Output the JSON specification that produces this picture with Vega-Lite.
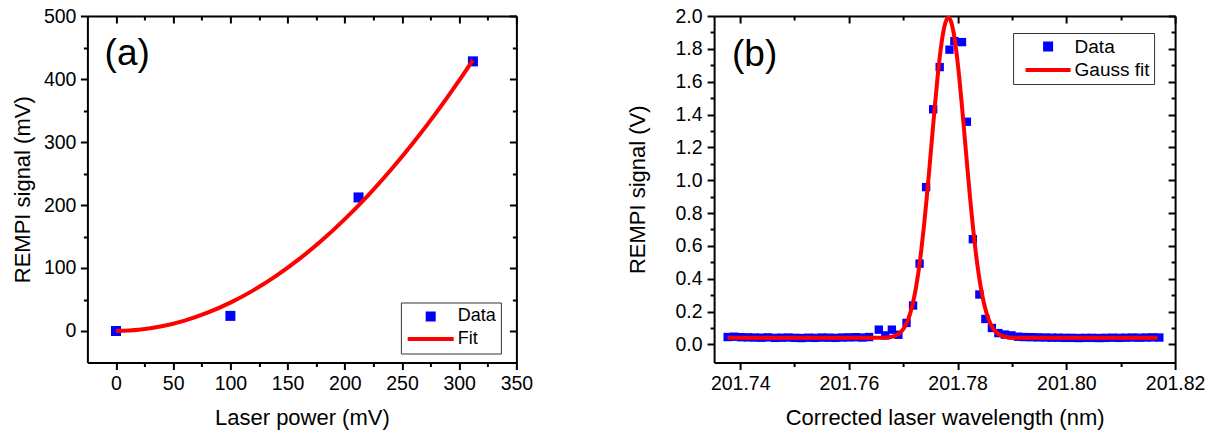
{
  "$schema": "https://vega.github.io/schema/vega-lite/v6.json",
  "background": "white",
  "padding": {"left": 11.4, "top": 6, "right": 5, "bottom": 2},
  "config": {
    "view": {"stroke": null},
    "font": "Liberation Sans",
    "axis": {
      "domainColor": "#000", "domainWidth": 2,
      "tickColor": "#000", "tickWidth": 2,
      "labelColor": "#000", "titleColor": "#000",
      "labelFont": "Liberation Sans", "titleFont": "Liberation Sans",
      "labelFontSize": 19.5, "titleFontSize": 22, "titleFontWeight": "normal",
      "grid": false, "labelFlush": false, "labelOverlap": false
    },
    "legend": {"labelFont": "Liberation Sans", "labelFontSize": 18, "labelColor": "#000"}
  },
  "spacing": 92.7,
  "resolve": {
    "scale": {"fill": "independent", "stroke": "independent", "shape": "independent"},
    "legend": {"fill": "independent", "stroke": "independent", "shape": "independent"}
  },
  "hconcat": [
    {
      "width": 429,
      "height": 346.5,
      "resolve": {"axis": {"x": "independent", "y": "independent"}},
      "layer": [
        {
          "data": {"values": [
            {"x": 0, "y": 0, "series": "Data"},
            {"x": 100, "y": 24, "series": "Data"},
            {"x": 212, "y": 212, "series": "Data"},
            {"x": 312, "y": 428, "series": "Data"}
          ]},
          "mark": {"type": "point", "filled": true, "size": 100, "opacity": 1},
          "encoding": {
            "x": {"field": "x", "type": "quantitative",
              "scale": {"domain": [-25, 350], "nice": false, "zero": false},
              "axis": {"orient": "bottom", "title": "Laser power (mV)",
                "values": [0, 50, 100, 150, 200, 250, 300, 350],
                "ticks": false, "labelPadding": 12, "titlePadding": 15}},
            "y": {"field": "y", "type": "quantitative",
              "scale": {"domain": [-50, 500], "nice": false, "zero": false},
              "axis": {"orient": "left", "title": "REMPI signal (mV)",
                "values": [0, 100, 200, 300, 400, 500],
                "ticks": false, "labelPadding": 11.5, "titlePadding": 8.4}},
            "fill": {"field": "series", "type": "nominal",
              "scale": {"domain": ["Data", "Fit"], "range": ["#0000ff", "transparent"]},
              "legend": {"orient": "none", "legendX": 313.5, "legendY": 286.5, "title": null, "symbolSize": 100, "symbolStrokeWidth": 4, "symbolOffset": 15.8, "labelOffset": 18, "padding": 5, "rowPadding": 0.5, "strokeColor": "#333", "fillColor": "white", "symbolOpacity": 1}},
            "stroke": {"field": "series", "type": "nominal",
              "scale": {"domain": ["Data", "Fit"], "range": ["transparent", "#ff0000"]},
              "legend": {"orient": "none", "legendX": 313.5, "legendY": 286.5, "title": null, "symbolSize": 100, "symbolStrokeWidth": 4, "symbolOffset": 15.8, "labelOffset": 18, "padding": 5, "rowPadding": 0.5, "strokeColor": "#333", "fillColor": "white", "symbolOpacity": 1}},
            "shape": {"field": "series", "type": "nominal",
              "scale": {"domain": ["Data", "Fit"], "range": ["square", "M-4.6,0H4.6"]},
              "legend": {"orient": "none", "legendX": 313.5, "legendY": 286.5, "title": null, "symbolSize": 100, "symbolStrokeWidth": 4, "symbolOffset": 15.8, "labelOffset": 18, "padding": 5, "rowPadding": 0.5, "strokeColor": "#333", "fillColor": "white", "symbolOpacity": 1}}
          }
        },
        {
          "data": {"values": [
            {"x": 0, "y": 0}, {"x": 20, "y": 2.0}, {"x": 40, "y": 7.5}, {"x": 60, "y": 16.5},
            {"x": 80, "y": 29.0}, {"x": 100, "y": 45.0}, {"x": 120, "y": 64.5}, {"x": 140, "y": 87.5},
            {"x": 160, "y": 114.0}, {"x": 180, "y": 144.0}, {"x": 200, "y": 177.6}, {"x": 220, "y": 214.6},
            {"x": 240, "y": 255.1}, {"x": 260, "y": 299.1}, {"x": 280, "y": 346.6}, {"x": 300, "y": 397.7},
            {"x": 312, "y": 430.0}
          ]},
          "mark": {"type": "line", "color": "#ff0000", "strokeWidth": 4, "interpolate": "monotone"},
          "encoding": {
            "x": {"field": "x", "type": "quantitative",
              "scale": {"domain": [-25, 350], "nice": false, "zero": false},
              "axis": {"orient": "top", "title": null, "labels": false,
                "values": [0, 50, 100, 150, 200, 250, 300, 350], "tickSize": -7}},
            "y": {"field": "y", "type": "quantitative",
              "scale": {"domain": [-50, 500], "nice": false, "zero": false},
              "axis": {"orient": "right", "title": null, "labels": false,
                "values": [0, 100, 200, 300, 400, 500], "tickSize": -7}}
          }
        },
        {
          "data": {"values": [{"x": 0, "y": 0}]},
          "mark": {"type": "point", "opacity": 0},
          "encoding": {
            "x": {"field": "x", "type": "quantitative",
              "scale": {"domain": [-25, 350], "nice": false, "zero": false},
              "axis": {"orient": "top", "title": null, "labels": false, "domain": false,
                "values": [25, 75, 125, 175, 225, 275, 325], "tickSize": -4}},
            "y": {"field": "y", "type": "quantitative",
              "scale": {"domain": [-50, 500], "nice": false, "zero": false},
              "axis": {"orient": "right", "title": null, "labels": false, "domain": false,
                "values": [50, 150, 250, 350, 450], "tickSize": -4}}
          }
        },
        {
          "data": {"values": [{"x": 0, "y": 0}]},
          "mark": {"type": "point", "opacity": 0},
          "encoding": {
            "x": {"field": "x", "type": "quantitative",
              "scale": {"domain": [-25, 350], "nice": false, "zero": false},
              "axis": {"orient": "top", "offset": -346.5, "title": null, "labels": false, "domain": false,
                "values": [0, 50, 100, 150, 200, 250, 300, 350], "tickSize": -7}},
            "y": {"field": "y", "type": "quantitative",
              "scale": {"domain": [-50, 500], "nice": false, "zero": false},
              "axis": {"orient": "right", "offset": -429, "title": null, "labels": false, "domain": false,
                "values": [0, 100, 200, 300, 400, 500], "tickSize": -7}}
          }
        },
        {
          "data": {"values": [{"x": 0, "y": 0}]},
          "mark": {"type": "point", "opacity": 0},
          "encoding": {
            "x": {"field": "x", "type": "quantitative",
              "scale": {"domain": [-25, 350], "nice": false, "zero": false},
              "axis": {"orient": "top", "offset": -346.5, "title": null, "labels": false, "domain": false,
                "values": [25, 75, 125, 175, 225, 275, 325], "tickSize": -4}},
            "y": {"field": "y", "type": "quantitative",
              "scale": {"domain": [-50, 500], "nice": false, "zero": false},
              "axis": {"orient": "right", "offset": -429, "title": null, "labels": false, "domain": false,
                "values": [50, 150, 250, 350, 450], "tickSize": -4}}
          }
        },
        {
          "data": {"values": [{"x": -10, "y": 422, "t": "(a)"}]},
          "mark": {"type": "text", "fontSize": 37, "align": "left", "baseline": "alphabetic", "color": "#000", "font": "Liberation Sans"},
          "encoding": {
            "x": {"field": "x", "type": "quantitative", "axis": null},
            "y": {"field": "y", "type": "quantitative", "axis": null},
            "text": {"field": "t"}
          }
        }
      ]
    },
    {
      "width": 461,
      "height": 346.5,
      "resolve": {"axis": {"x": "independent", "y": "independent"}},
      "layer": [
        {
          "data": {"values": [
            {"x": 201.7377, "y": 0.045, "series": "Data"},
            {"x": 201.7389, "y": 0.047, "series": "Data"},
            {"x": 201.7402, "y": 0.044, "series": "Data"},
            {"x": 201.7414, "y": 0.043, "series": "Data"},
            {"x": 201.7427, "y": 0.042, "series": "Data"},
            {"x": 201.7439, "y": 0.041, "series": "Data"},
            {"x": 201.7451, "y": 0.043, "series": "Data"},
            {"x": 201.7464, "y": 0.040, "series": "Data"},
            {"x": 201.7476, "y": 0.041, "series": "Data"},
            {"x": 201.7489, "y": 0.042, "series": "Data"},
            {"x": 201.7501, "y": 0.040, "series": "Data"},
            {"x": 201.7513, "y": 0.039, "series": "Data"},
            {"x": 201.7526, "y": 0.041, "series": "Data"},
            {"x": 201.7538, "y": 0.040, "series": "Data"},
            {"x": 201.7551, "y": 0.042, "series": "Data"},
            {"x": 201.7563, "y": 0.041, "series": "Data"},
            {"x": 201.7575, "y": 0.040, "series": "Data"},
            {"x": 201.7588, "y": 0.042, "series": "Data"},
            {"x": 201.7600, "y": 0.043, "series": "Data"},
            {"x": 201.7613, "y": 0.044, "series": "Data"},
            {"x": 201.7625, "y": 0.042, "series": "Data"},
            {"x": 201.7637, "y": 0.045, "series": "Data"},
            {"x": 201.7655, "y": 0.090, "series": "Data"},
            {"x": 201.7667, "y": 0.055, "series": "Data"},
            {"x": 201.7679, "y": 0.090, "series": "Data"},
            {"x": 201.7691, "y": 0.059, "series": "Data"},
            {"x": 201.7706, "y": 0.131, "series": "Data"},
            {"x": 201.7718, "y": 0.237, "series": "Data"},
            {"x": 201.7730, "y": 0.492, "series": "Data"},
            {"x": 201.7742, "y": 0.958, "series": "Data"},
            {"x": 201.7755, "y": 1.432, "series": "Data"},
            {"x": 201.7767, "y": 1.689, "series": "Data"},
            {"x": 201.7785, "y": 1.795, "series": "Data"},
            {"x": 201.7794, "y": 1.847, "series": "Data"},
            {"x": 201.7808, "y": 1.841, "series": "Data"},
            {"x": 201.7817, "y": 1.356, "series": "Data"},
            {"x": 201.7828, "y": 0.641, "series": "Data"},
            {"x": 201.7840, "y": 0.304, "series": "Data"},
            {"x": 201.7851, "y": 0.155, "series": "Data"},
            {"x": 201.7863, "y": 0.100, "series": "Data"},
            {"x": 201.7875, "y": 0.069, "series": "Data"},
            {"x": 201.7887, "y": 0.060, "series": "Data"},
            {"x": 201.7899, "y": 0.055, "series": "Data"},
            {"x": 201.7911, "y": 0.047, "series": "Data"},
            {"x": 201.7923, "y": 0.045, "series": "Data"},
            {"x": 201.7936, "y": 0.044, "series": "Data"},
            {"x": 201.7948, "y": 0.043, "series": "Data"},
            {"x": 201.7961, "y": 0.042, "series": "Data"},
            {"x": 201.7973, "y": 0.041, "series": "Data"},
            {"x": 201.7985, "y": 0.041, "series": "Data"},
            {"x": 201.7998, "y": 0.040, "series": "Data"},
            {"x": 201.8010, "y": 0.040, "series": "Data"},
            {"x": 201.8023, "y": 0.039, "series": "Data"},
            {"x": 201.8035, "y": 0.040, "series": "Data"},
            {"x": 201.8047, "y": 0.040, "series": "Data"},
            {"x": 201.8060, "y": 0.039, "series": "Data"},
            {"x": 201.8072, "y": 0.040, "series": "Data"},
            {"x": 201.8085, "y": 0.041, "series": "Data"},
            {"x": 201.8097, "y": 0.040, "series": "Data"},
            {"x": 201.8109, "y": 0.041, "series": "Data"},
            {"x": 201.8122, "y": 0.042, "series": "Data"},
            {"x": 201.8134, "y": 0.041, "series": "Data"},
            {"x": 201.8147, "y": 0.042, "series": "Data"},
            {"x": 201.8159, "y": 0.043, "series": "Data"},
            {"x": 201.8171, "y": 0.042, "series": "Data"}
          ]},
          "mark": {"type": "point", "filled": true, "size": 70, "opacity": 1},
          "encoding": {
            "x": {"field": "x", "type": "quantitative",
              "scale": {"domain": [201.7352, 201.82], "nice": false, "zero": false},
              "axis": {"orient": "bottom", "title": "Corrected laser wavelength (nm)", "format": ".2f",
                "values": [201.74, 201.76, 201.78, 201.80, 201.82],
                "ticks": false, "labelPadding": 12, "titlePadding": 15}},
            "y": {"field": "y", "type": "quantitative",
              "scale": {"domain": [-0.11, 2.0], "nice": false, "zero": false},
              "axis": {"orient": "left", "title": "REMPI signal (V)", "format": ".1f",
                "values": [0, 0.2, 0.4, 0.6, 0.8, 1.0, 1.2, 1.4, 1.6, 1.8, 2.0],
                "ticks": false, "labelPadding": 12, "titlePadding": 25.5}},
            "fill": {"field": "series", "type": "nominal",
              "scale": {"domain": ["Data", "Gauss fit"], "range": ["#0000ff", "transparent"]},
              "legend": {"orient": "none", "legendX": 299, "legendY": 17, "title": null, "symbolSize": 100, "symbolStrokeWidth": 4, "symbolOffset": 21.5, "labelOffset": 17, "padding": 4, "rowPadding": 0.5, "labelFontSize": 19, "strokeColor": "#333", "fillColor": "white", "symbolOpacity": 1}},
            "stroke": {"field": "series", "type": "nominal",
              "scale": {"domain": ["Data", "Gauss fit"], "range": ["transparent", "#ff0000"]},
              "legend": {"orient": "none", "legendX": 299, "legendY": 17, "title": null, "symbolSize": 100, "symbolStrokeWidth": 4, "symbolOffset": 21.5, "labelOffset": 17, "padding": 4, "rowPadding": 0.5, "labelFontSize": 19, "strokeColor": "#333", "fillColor": "white", "symbolOpacity": 1}},
            "shape": {"field": "series", "type": "nominal",
              "scale": {"domain": ["Data", "Gauss fit"], "range": ["square", "M-4.5,0H4.5"]},
              "legend": {"orient": "none", "legendX": 299, "legendY": 17, "title": null, "symbolSize": 100, "symbolStrokeWidth": 4, "symbolOffset": 21.5, "labelOffset": 17, "padding": 4, "rowPadding": 0.5, "labelFontSize": 19, "strokeColor": "#333", "fillColor": "white", "symbolOpacity": 1}}
          }
        },
        {
          "data": {"values": [
            {"x": 201.7377, "y": 0.04},
            {"x": 201.7653, "y": 0.0403},
            {"x": 201.7663, "y": 0.0411},
            {"x": 201.7673, "y": 0.0436},
            {"x": 201.7683, "y": 0.0507},
            {"x": 201.7688, "y": 0.0578},
            {"x": 201.7693, "y": 0.0688},
            {"x": 201.7698, "y": 0.0855},
            {"x": 201.7703, "y": 0.1098},
            {"x": 201.7708, "y": 0.1445},
            {"x": 201.7713, "y": 0.1924},
            {"x": 201.7718, "y": 0.2565},
            {"x": 201.7723, "y": 0.3397},
            {"x": 201.7728, "y": 0.4441},
            {"x": 201.7733, "y": 0.5711},
            {"x": 201.7738, "y": 0.7199},
            {"x": 201.7743, "y": 0.8882},
            {"x": 201.7748, "y": 1.0709},
            {"x": 201.7753, "y": 1.2609},
            {"x": 201.7758, "y": 1.4487},
            {"x": 201.7763, "y": 1.6236},
            {"x": 201.7768, "y": 1.7746},
            {"x": 201.7773, "y": 1.8911},
            {"x": 201.7778, "y": 1.9648},
            {"x": 201.7783, "y": 1.99},
            {"x": 201.7788, "y": 1.9648},
            {"x": 201.7793, "y": 1.8911},
            {"x": 201.7798, "y": 1.7746},
            {"x": 201.7803, "y": 1.6236},
            {"x": 201.7808, "y": 1.4487},
            {"x": 201.7813, "y": 1.2609},
            {"x": 201.7818, "y": 1.0709},
            {"x": 201.7823, "y": 0.8882},
            {"x": 201.7828, "y": 0.7199},
            {"x": 201.7833, "y": 0.5711},
            {"x": 201.7838, "y": 0.4441},
            {"x": 201.7843, "y": 0.3397},
            {"x": 201.7848, "y": 0.2565},
            {"x": 201.7853, "y": 0.1924},
            {"x": 201.7858, "y": 0.1445},
            {"x": 201.7863, "y": 0.1098},
            {"x": 201.7868, "y": 0.0855},
            {"x": 201.7873, "y": 0.0688},
            {"x": 201.7878, "y": 0.0578},
            {"x": 201.7883, "y": 0.0507},
            {"x": 201.7893, "y": 0.0436},
            {"x": 201.7903, "y": 0.0411},
            {"x": 201.7913, "y": 0.0403},
            {"x": 201.8168, "y": 0.04}
          ]},
          "mark": {"type": "line", "color": "#ff0000", "strokeWidth": 4, "interpolate": "monotone"},
          "encoding": {
            "x": {"field": "x", "type": "quantitative",
              "scale": {"domain": [201.7352, 201.82], "nice": false, "zero": false},
              "axis": {"orient": "top", "title": null, "labels": false,
                "values": [201.74, 201.76, 201.78, 201.80, 201.82], "tickSize": -7}},
            "y": {"field": "y", "type": "quantitative",
              "scale": {"domain": [-0.11, 2.0], "nice": false, "zero": false},
              "axis": {"orient": "right", "title": null, "labels": false,
                "values": [0, 0.2, 0.4, 0.6, 0.8, 1.0, 1.2, 1.4, 1.6, 1.8, 2.0], "tickSize": -7}}
          }
        },
        {
          "data": {"values": [{"x": 201.78, "y": 0}]},
          "mark": {"type": "point", "opacity": 0},
          "encoding": {
            "x": {"field": "x", "type": "quantitative",
              "scale": {"domain": [201.7352, 201.82], "nice": false, "zero": false},
              "axis": {"orient": "top", "title": null, "labels": false, "domain": false,
                "values": [201.75, 201.77, 201.79, 201.81], "tickSize": -4}},
            "y": {"field": "y", "type": "quantitative",
              "scale": {"domain": [-0.11, 2.0], "nice": false, "zero": false},
              "axis": {"orient": "right", "title": null, "labels": false, "domain": false,
                "values": [0.1, 0.3, 0.5, 0.7, 0.9, 1.1, 1.3, 1.5, 1.7, 1.9], "tickSize": -4}}
          }
        },
        {
          "data": {"values": [{"x": 201.78, "y": 0}]},
          "mark": {"type": "point", "opacity": 0},
          "encoding": {
            "x": {"field": "x", "type": "quantitative",
              "scale": {"domain": [201.7352, 201.82], "nice": false, "zero": false},
              "axis": {"orient": "top", "offset": -346.5, "title": null, "labels": false, "domain": false,
                "values": [201.74, 201.76, 201.78, 201.80, 201.82], "tickSize": -7}},
            "y": {"field": "y", "type": "quantitative",
              "scale": {"domain": [-0.11, 2.0], "nice": false, "zero": false},
              "axis": {"orient": "right", "offset": -461, "title": null, "labels": false, "domain": false,
                "values": [0, 0.2, 0.4, 0.6, 0.8, 1.0, 1.2, 1.4, 1.6, 1.8, 2.0], "tickSize": -7}}
          }
        },
        {
          "data": {"values": [{"x": 201.78, "y": 0}]},
          "mark": {"type": "point", "opacity": 0},
          "encoding": {
            "x": {"field": "x", "type": "quantitative",
              "scale": {"domain": [201.7352, 201.82], "nice": false, "zero": false},
              "axis": {"orient": "top", "offset": -346.5, "title": null, "labels": false, "domain": false,
                "values": [201.75, 201.77, 201.79, 201.81], "tickSize": -4}},
            "y": {"field": "y", "type": "quantitative",
              "scale": {"domain": [-0.11, 2.0], "nice": false, "zero": false},
              "axis": {"orient": "right", "offset": -461, "title": null, "labels": false, "domain": false,
                "values": [0.1, 0.3, 0.5, 0.7, 0.9, 1.1, 1.3, 1.5, 1.7, 1.9], "tickSize": -4}}
          }
        },
        {
          "data": {"values": [{"x": 201.7385, "y": 1.698, "t": "(b)"}]},
          "mark": {"type": "text", "fontSize": 37, "align": "left", "baseline": "alphabetic", "color": "#000", "font": "Liberation Sans"},
          "encoding": {
            "x": {"field": "x", "type": "quantitative", "axis": null},
            "y": {"field": "y", "type": "quantitative", "axis": null},
            "text": {"field": "t"}
          }
        }
      ]
    }
  ]
}
